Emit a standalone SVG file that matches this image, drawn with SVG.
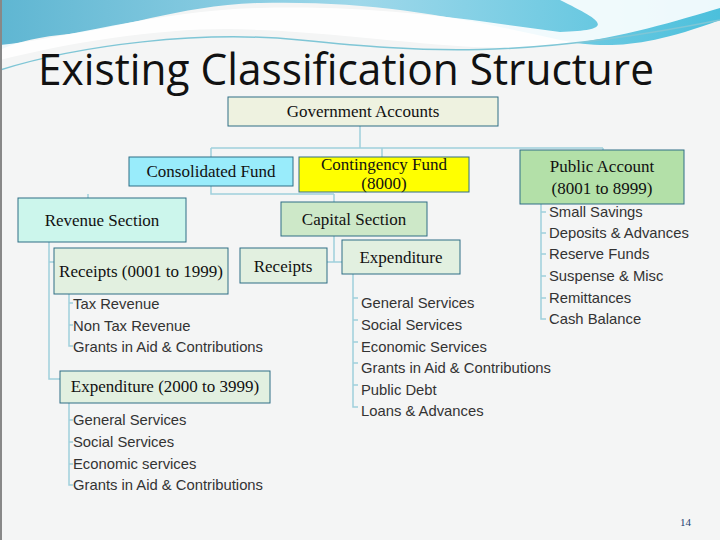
<svg xmlns="http://www.w3.org/2000/svg" width="720" height="540" viewBox="0 0 720 540">
<defs>
<linearGradient id="wave" x1="0" y1="0" x2="1" y2="0">
<stop offset="0" stop-color="#5fb6d2"/><stop offset="0.5" stop-color="#9fd8ea"/><stop offset="1" stop-color="#4cc0dc"/>
</linearGradient>
<style>
.bx{stroke:#2e6f86;stroke-width:1}
.t{font-family:"Liberation Serif",serif;font-size:17px;fill:#111;text-anchor:middle}
.li{font-family:"Liberation Sans",Arial,sans-serif;font-size:14.8px;fill:#333}
.c{fill:none;stroke:#9fd0dc;stroke-width:1.5}
</style>
</defs>
<rect width="720" height="540" fill="#f4f5f5"/>
<path d="M0 0H720V20C640 50 600 48 560 40C470 20 380 0 260 3C180 5 120 30 60 35C30 38 10 45 0 50Z" fill="url(#wave)"/>
<path d="M0 60C80 40 180 25 260 30C380 35 470 55 560 45C620 38 680 20 720 8V0H560C600 20 620 30 560 32C470 20 380 5 260 8C160 10 60 40 0 45Z" fill="#ffffff" opacity="0.9"/>
<path d="M0 70C80 45 200 30 300 40C420 52 520 60 720 20" fill="none" stroke="#7fc6d6" stroke-width="1.5"/>
<rect x="0" y="0" width="2" height="540" fill="#888"/>
<text x="38" y="85" font-family="'Open Sans','Liberation Sans',sans-serif" font-size="44" fill="#111" textLength="616" lengthAdjust="spacingAndGlyphs">Existing Classification Structure</text>
<g id="connectors">
<path class="c" d="M360 126V148M211 148H603M211 148V157M382 148V157M603 148V150"/>
<path class="c" d="M211 186V194H334M88 194V198M334 194V202"/>
<path class="c" d="M49 242V379H60M49 262H54"/>
<path class="c" d="M69 294V346H73M69 303H73M69 325H73"/>
<path class="c" d="M69 403V485H73M69 420H73M69 442H73M69 464H73"/>
<path class="c" d="M334 236V262M327 262H342"/>
<path class="c" d="M353 274V407H358M353 298H358M353 320H358M353 342H358M353 363H358M353 385H358"/>
<path class="c" d="M541 204V319H546M541 212H546M541 233H546M541 254H546M541 276H546M541 298H546"/>
</g>
<g id="gov"><rect class="bx" x="228" y="97" width="270" height="29" fill="#eef2e0"/><text class="t" x="363" y="117">Government Accounts</text></g>
<g id="consolidated"><rect class="bx" x="129" y="157" width="164" height="29" fill="#99ecfb"/><text class="t" x="211" y="177">Consolidated Fund</text></g>
<g id="contingency"><rect class="bx" x="299" y="157" width="170" height="35" fill="#ffff00"/><text class="t" x="384" y="170">Contingency Fund</text><text class="t" x="384" y="189">(8000)</text></g>
<g id="public"><rect class="bx" x="520" y="150" width="164" height="54" fill="#b3e0a8"/><text class="t" x="602" y="172">Public Account</text><text class="t" x="602" y="194">(8001 to 8999)</text></g>
<g id="revenue"><rect class="bx" x="18" y="198" width="168" height="44" fill="#ccf6ec"/><text class="t" x="102" y="226">Revenue Section</text></g>
<g id="capital"><rect class="bx" x="281" y="202" width="146" height="34" fill="#cde8c8"/><text class="t" x="354" y="225">Capital Section</text></g>
<g id="receipts1"><rect class="bx" x="54" y="248" width="174" height="46" fill="#e2f0e0"/><text class="t" x="141" y="277" font-size="15">Receipts (0001 to 1999)</text></g>
<g id="receipts2"><rect class="bx" x="240" y="248" width="87" height="35" fill="#e2f0e0"/><text class="t" x="283" y="272">Receipts</text></g>
<g id="expenditure"><rect class="bx" x="342" y="240" width="118" height="34" fill="#e2f0e0"/><text class="t" x="401" y="263">Expenditure</text></g>
<g id="expenditure1"><rect class="bx" x="60" y="371" width="210" height="32" fill="#e2f0e0"/><text class="t" x="165" y="392" font-size="15">Expenditure (2000 to 3999)</text></g>
<g id="lists">
<text class="li" x="73" y="309">Tax Revenue</text><text class="li" x="73" y="331">Non Tax Revenue</text><text class="li" x="73" y="352">Grants in Aid &amp; Contributions</text>
<text class="li" x="73" y="425">General Services</text><text class="li" x="73" y="447">Social Services</text><text class="li" x="73" y="469">Economic services</text><text class="li" x="73" y="490">Grants in Aid &amp; Contributions</text>
<text class="li" x="361" y="308">General Services</text><text class="li" x="361" y="330">Social Services</text><text class="li" x="361" y="352">Economic Services</text><text class="li" x="361" y="373">Grants in Aid &amp; Contributions</text><text class="li" x="361" y="395">Public Debt</text><text class="li" x="361" y="416">Loans &amp; Advances</text>
<text class="li" x="549" y="217">Small Savings</text><text class="li" x="549" y="238">Deposits &amp; Advances</text><text class="li" x="549" y="259">Reserve Funds</text><text class="li" x="549" y="281">Suspense &amp; Misc</text><text class="li" x="549" y="303">Remittances</text><text class="li" x="549" y="324">Cash Balance</text>
</g>
<text x="680" y="526" font-family="'Liberation Serif',serif" font-size="11" fill="#1f3f6f">14</text>
</svg>
